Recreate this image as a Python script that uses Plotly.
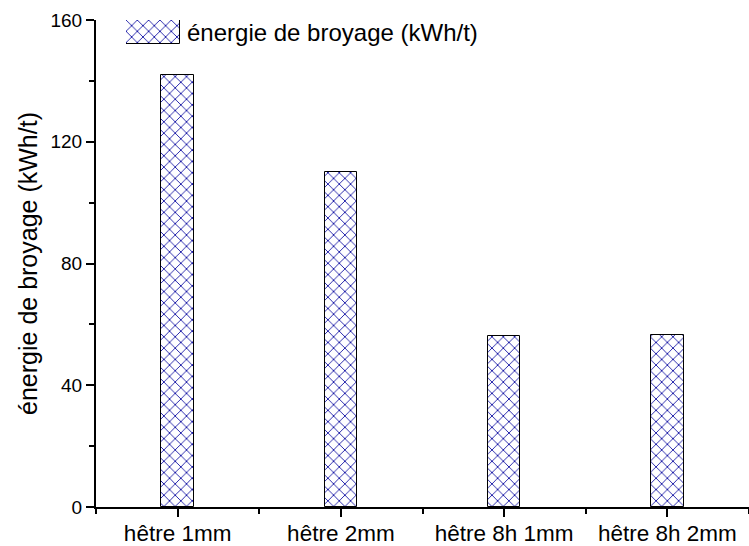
import plotly.graph_objects as go

# Grinding energy per sample
categories = ["hêtre 1mm", "hêtre 2mm", "hêtre 8h 1mm", "hêtre 8h 2mm"]
energy = [142, 110, 56.3, 56.6]
series_name = "énergie de broyage (kWh/t)"
y_ticks = [0, 40, 80, 120, 160]

FONT = "Liberation Sans, Arial, sans-serif"
HATCH = dict(shape="x", fgcolor="#1e1ea8", fgopacity=1, bgcolor="white",
             size=8, solidity=0.22, fillmode="replace")

W, H = 749, 546
ML, MR, MT, MB = 96, 0, 20, 39
plot_w = W - ML - MR
plot_h = H - MT - MB

positions = list(range(len(categories)))

fig = go.Figure()

fig.add_trace(go.Bar(
    x=positions,
    y=energy,
    width=0.2,
    name=series_name,
    marker=dict(color="white", pattern=HATCH, line=dict(color="black", width=1)),
    showlegend=False,
))

# Legend key: a single hatched swatch on its own small axes
fig.add_trace(go.Bar(
    x=[0], y=[1], width=1,
    xaxis="x2", yaxis="y2",
    marker=dict(color="white", pattern=HATCH, line=dict(color="black", width=1)),
    showlegend=False, hoverinfo="skip",
))


def px_x(px):
    return (px - ML) / plot_w


def px_y(px):
    return min(1.0, (H - MB - px) / plot_h)


fig.update_layout(
    width=W, height=H,
    margin=dict(l=ML, r=MR, t=MT, b=MB, autoexpand=False),
    plot_bgcolor="white", paper_bgcolor="white",
    font=dict(family=FONT, color="black"),
    bargap=0,
    xaxis=dict(
        range=[-0.5, 3.5], automargin=False,
        tickmode="array", tickvals=positions, ticktext=categories,
        ticks="outside", ticklen=8, tickwidth=2, tickcolor="black",
        tickfont=dict(size=22.5), ticklabelstandoff=-3,
        showline=True, linewidth=2, linecolor="black",
        showgrid=False, zeroline=False,
        minor=dict(tickvals=[p - 0.5 for p in positions] + [positions[-1] + 0.5],
                   ticks="outside", ticklen=5, tickwidth=2, tickcolor="black",
                   showgrid=False),
    ),
    yaxis=dict(
        range=[0, 160], automargin=False,
        tickvals=y_ticks,
        ticks="outside", ticklen=8, tickwidth=2, tickcolor="black",
        tickfont=dict(size=19),
        showline=True, linewidth=2, linecolor="black",
        showgrid=False, zeroline=False,
        minor=dict(dtick=20, ticks="outside", ticklen=5, tickwidth=2,
                   tickcolor="black", showgrid=False),
        title=dict(text=series_name, font=dict(size=25), standoff=6),
    ),
    xaxis2=dict(domain=[px_x(126), px_x(180)], range=[-0.5, 0.5],
                visible=False, anchor="y2", fixedrange=True),
    yaxis2=dict(domain=[px_y(44), px_y(19)], range=[0, 1],
                visible=False, anchor="x2", fixedrange=True),
)

fig.add_annotation(
    text=series_name, xref="paper", yref="paper",
    x=px_x(185), y=px_y(32),
    xanchor="left", yanchor="middle", showarrow=False,
    font=dict(size=24, family=FONT, color="black"),
)

fig.write_html("out.html")
